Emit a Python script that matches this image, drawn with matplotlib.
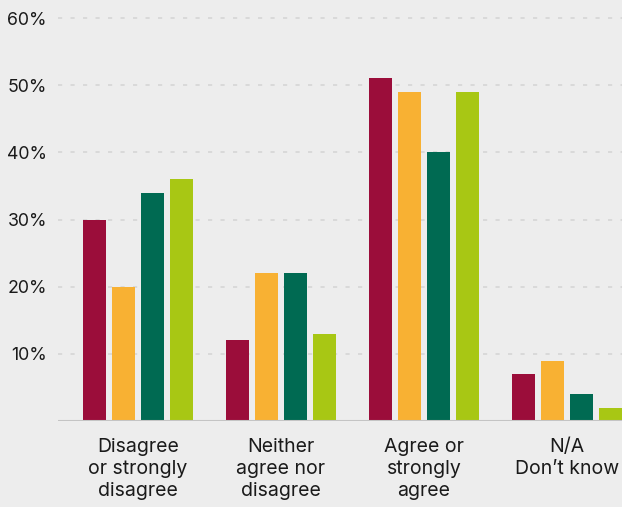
import matplotlib.pyplot as plt
import numpy as np

categories = ["Disagree\nor strongly\ndisagree", "Neither\nagree nor\ndisagree",
              "Agree or\nstrongly\nagree", "N/A\nDon\u2019t know"]
series_a = [30, 12, 51, 7]
series_b = [20, 22, 49, 9]
series_c = [34, 22, 40, 4]
series_d = [36, 13, 49, 2]
yticks = [10, 20, 30, 40, 50, 60]
ytick_labels = ["10%", "20%", "30%", "40%", "50%", "60%"]

colors = ["#9B0D3A", "#F8B133", "#006A52", "#A8C714"]
bg = "#EDEDED"

plt.rcParams['font.family'] = ['Inter', 'DejaVu Sans']

fig = plt.figure(figsize=(6.22, 5.07), dpi=100, facecolor=bg)
ax = fig.add_axes([58 / 622, 1 - 421 / 507, 1 - 58 / 622, (421 - 18) / 507])
ax.set_facecolor(bg)

x = np.arange(len(categories))
step = 29 / 143
width = 23 / 143
for i, vals in enumerate([series_a, series_b, series_c, series_d]):
    ax.bar(x + (i - 1.5) * step, vals, width=width, color=colors[i], zorder=3)

ax.set_xlim(-80 / 143, 484 / 143)
ax.set_ylim(0, 60)

# dotted guide lines behind the bars
for t in yticks:
    ax.axhline(t, color="#d6d6d6", lw=1.2, ls=(0, (2.5, 5)), zorder=1, clip_on=False)
ax.axhline(0, color="#c4c4c4", lw=1.5, zorder=4)

ax.set_yticks(yticks)
ax.set_yticklabels(ytick_labels, fontsize=12.8, color="#1a1a1a")
ax.set_xticks(x)
ax.set_xticklabels(categories, fontsize=14, color="#1a1a1a", linespacing=1.3)
ax.tick_params(axis="both", length=0)
ax.tick_params(axis="y", pad=8)
ax.tick_params(axis="x", pad=12)
for s in ax.spines.values():
    s.set_visible(False)

fig.savefig("out.png", dpi=100, facecolor=bg)
